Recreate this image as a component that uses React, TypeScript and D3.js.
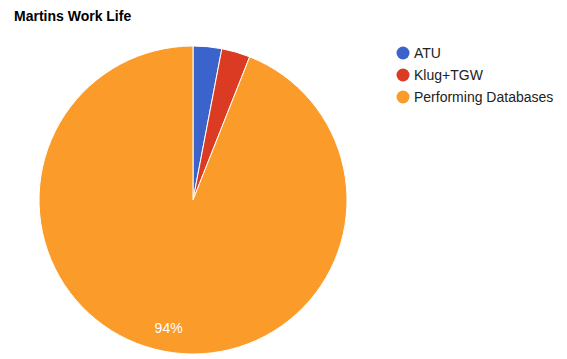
import { useEffect, useRef } from "react";
import * as d3 from "d3";

const categories = ["ATU", "Klug+TGW", "Performing Databases"];
const values = [3, 3, 94];
const colors = ["#3b63cc", "#da3b22", "#fb9b2a"];

export default function App() {
  const svgRef = useRef<SVGSVGElement | null>(null);

  useEffect(() => {
    const svg = d3.select(svgRef.current);
    svg.selectAll("*").remove();

    const width = 567;
    const height = 359;
    const cx = 193;
    const cy = 200;
    const radius = 154;
    const font = "Arial, 'Liberation Sans', sans-serif";

    svg.attr("width", width).attr("height", height);
    svg.append("rect").attr("width", width).attr("height", height).attr("fill", "#fff");

    svg
      .append("text")
      .attr("x", 14)
      .attr("y", 21)
      .attr("font-family", font)
      .attr("font-size", 14)
      .attr("font-weight", "bold")
      .attr("fill", "#000")
      .text("Martins Work Life");

    const data = categories.map((name, i) => ({ name, value: values[i], color: colors[i] }));
    const pie = d3
      .pie<{ name: string; value: number; color: string }>()
      .value((d) => d.value)
      .sort(null);
    const arcs = pie(data);
    const total = d3.sum(values);

    const arc = d3.arc<d3.PieArcDatum<any>>().innerRadius(0).outerRadius(radius);
    const labelArc = d3.arc<d3.PieArcDatum<any>>().innerRadius(radius * 0.845).outerRadius(radius * 0.845);

    const g = svg.append("g").attr("transform", `translate(${cx},${cy})`);

    g.selectAll("path")
      .data(arcs)
      .enter()
      .append("path")
      .attr("d", arc)
      .attr("fill", (d) => d.data.color)
      .attr("stroke", "#fff")
      .attr("stroke-width", 1);

    // only slices big enough get a percentage label
    g.selectAll("text.pct")
      .data(arcs.filter((d) => d.data.value / total > 0.1))
      .enter()
      .append("text")
      .attr("class", "pct")
      .attr("transform", (d) => `translate(${labelArc.centroid(d)})`)
      .attr("text-anchor", "middle")
      .attr("dy", "0.35em")
      .attr("font-family", font)
      .attr("font-size", 14)
      .attr("fill", "#fff")
      .text((d) => `${Math.round((d.data.value / total) * 100)}%`);

    const legend = svg.append("g").attr("transform", "translate(403,53)");
    const item = legend
      .selectAll("g")
      .data(data)
      .enter()
      .append("g")
      .attr("transform", (_, i) => `translate(0,${i * 22})`);

    item.append("circle").attr("r", 6.5).attr("fill", (d) => d.color);
    item
      .append("text")
      .attr("x", 11)
      .attr("dy", "0.35em")
      .attr("font-family", font)
      .attr("font-size", 14)
      .attr("fill", "#222")
      .text((d) => d.name);
  }, []);

  return <svg ref={svgRef} style={{ display: "block", position: "absolute", left: 0, top: 0 }} />;
}
